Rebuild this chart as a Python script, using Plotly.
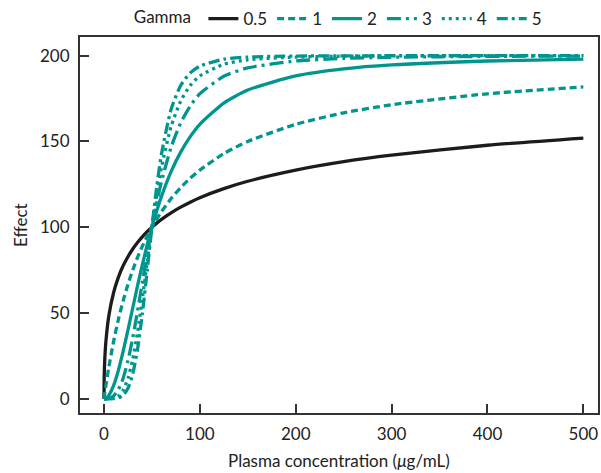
import plotly.graph_objects as go

# Plasma concentration (ug/mL) sample points
conc = [0, 0.25, 0.5, 1, 2, 5, 10, 15, 20, 25, 30, 35, 40, 45, 50, 55, 60,
        70, 80, 90, 100, 125, 150, 200, 250, 300, 400, 500]

# Effect values, one list per Gamma
eff_g05 = [0, 13.2, 18.2, 24.8, 33.3, 48.1, 61.8, 70.8, 77.5, 82.8, 87.3, 91.1, 94.4, 97.4, 100,
           102.4, 104.6, 108.4, 111.7, 114.6, 117.2, 122.5, 126.8, 133.3, 138.2, 142.0, 147.8, 152.0]
eff_g1 = [0, 1.0, 2.0, 3.9, 7.7, 18.2, 33.3, 46.2, 57.1, 66.7, 75.0, 82.4, 88.9, 94.7, 100,
          104.8, 109.1, 116.7, 123.1, 128.6, 133.3, 142.9, 150.0, 160.0, 166.7, 171.4, 177.8, 181.8]
eff_g2 = [0, 0.0, 0.0, 0.1, 0.3, 2.0, 7.7, 16.5, 27.6, 40.0, 52.9, 65.8, 78.0, 89.5, 100,
          109.5, 118.0, 132.4, 143.8, 152.8, 160.0, 172.4, 180.0, 188.2, 192.3, 194.6, 196.9, 198.0]
eff_g3 = [0, 0, 0, 0.0, 0.0, 0.2, 1.6, 5.3, 12.0, 22.2, 35.5, 51.1, 67.7, 84.3, 100,
          114.2, 126.7, 146.6, 160.8, 170.7, 177.8, 188.0, 192.9, 196.9, 198.4, 199.1, 199.6, 199.8]
eff_g4 = [0, 0, 0, 0, 0.0, 0.0, 0.3, 1.6, 5.0, 11.8, 23.0, 38.7, 58.1, 79.2, 100,
          118.8, 134.9, 158.7, 173.5, 182.6, 188.2, 195.0, 197.6, 199.2, 199.7, 199.9, 200.0, 200.0]
eff_g5 = [0, 0, 0, 0, 0, 0.0, 0.1, 0.5, 2.0, 6.1, 14.4, 28.8, 49.4, 74.3, 100,
          123.4, 142.7, 168.7, 182.6, 190.0, 193.9, 198.0, 199.2, 199.8, 199.9, 200.0, 200.0, 200.0]

gamma_labels = ["0.5", "1", "2", "3", "4", "5"]
series = [eff_g05, eff_g1, eff_g2, eff_g3, eff_g4, eff_g5]
x_ticks = [0, 100, 200, 300, 400, 500]
y_ticks = [0, 50, 100, 150, 200]

BLACK = "#1c1c1c"
TEAL = "#00968f"
colors = [BLACK, TEAL, TEAL, TEAL, TEAL, TEAL]
dashes = ["solid", "7px,4px", "solid", "14px,5px,3px,5px", "3px,4px", "11px,4px,3px,4px"]

fig = go.Figure()
for lab, vals, col, dsh in zip(gamma_labels, series, colors, dashes):
    fig.add_trace(go.Scatter(
        x=conc, y=vals, mode="lines", name=lab,
        line=dict(color=col, width=3.3, dash=dsh, shape="spline", smoothing=0.6),
    ))

FONT = "Lato, 'Noto Sans', sans-serif"
TXT = "#222"
fig.update_layout(
    width=601, height=473,
    margin=dict(l=80, r=3, t=37, b=60, autoexpand=False),
    paper_bgcolor="white", plot_bgcolor="white",
    font=dict(family=FONT, size=17, color=TXT),
    showlegend=True,
    legend=dict(
        orientation="h", x=0.1, xanchor="left", y=1.0, yanchor="bottom",
        title=dict(text="Gamma ", font=dict(size=17)),
        font=dict(size=17), itemwidth=30, bgcolor="rgba(0,0,0,0)",
        tracegroupgap=0,
    ),
    xaxis=dict(
        range=[-25.0, 515.3], showgrid=False, zeroline=False, automargin=False,
        showline=True, linecolor="#333", linewidth=2, mirror=True,
        ticks="inside", ticklen=9, tickwidth=2, tickcolor="#333",
        tickvals=x_ticks, ticklabelstandoff=5,
    ),
    yaxis=dict(
        range=[-8.3, 210.9], showgrid=False, zeroline=False, automargin=False,
        showline=True, linecolor="#333", linewidth=2, mirror=True,
        ticks="inside", ticklen=9, tickwidth=2, tickcolor="#333",
        tickvals=y_ticks, ticklabelstandoff=5,
    ),
    annotations=[
        dict(text="Plasma concentration (<i>μ</i>g/mL)", xref="paper", yref="paper",
             x=0.5, y=-(460 - 413) / 376, yanchor="middle", xanchor="center",
             showarrow=False, font=dict(size=17, color=TXT)),
        dict(text="Effect", xref="paper", yref="paper", textangle=-90,
             x=-(80 - 20) / 518, y=0.5, xanchor="center", yanchor="middle",
             showarrow=False, font=dict(size=17, color=TXT)),
    ],
)

fig.write_html("out.html", config={"displayModeBar": False},
               post_script="document.body.style.margin='0';")
